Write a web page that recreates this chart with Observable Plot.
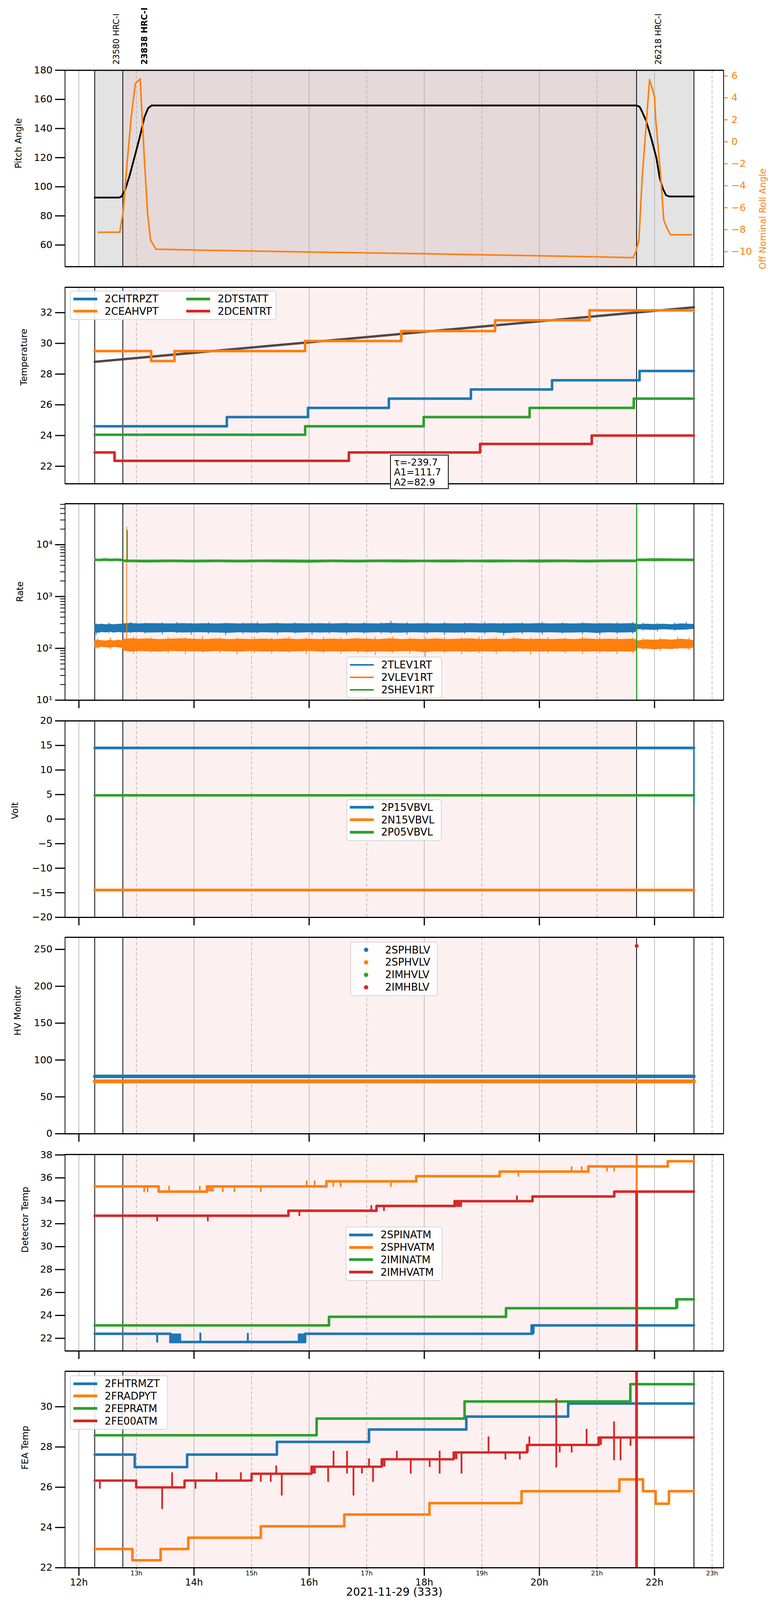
<!DOCTYPE html>
<html><head><meta charset="utf-8">
<script src="https://cdn.jsdelivr.net/npm/d3@7"></script>
<script src="https://cdn.jsdelivr.net/npm/@observablehq/plot@0.6"></script>
<style>
body{margin:0;background:#fff;font-family:"DejaVu Sans",sans-serif;}
#root{position:relative;width:2000px;height:4096px;overflow:hidden;background:#fff;}
.pane{position:absolute;left:0;}
.legend{position:absolute;box-sizing:border-box;border:2px solid #d6d6d6;border-radius:7px;background:rgba(255,255,255,0.85);}
.legend .sw{position:absolute;}
.legend .tx{position:absolute;font-size:26px;line-height:30px;white-space:nowrap;color:#000;}
.note{position:absolute;box-sizing:border-box;border:2px solid #000;background:#fff;font-size:24px;line-height:25.5px;padding:6px 0 0 8px;}
</style></head><body><div id="root"></div>
<script>
// The capture window is 4096 px tall, so the 5400 px tall layout is laid out at S = 4096/5400 vertically.
const S = 4096 / 5400;

// ---------- common ----------
const X_DOMAIN = [11.759, 23.2];
const evenHours = [12, 14, 16, 18, 20, 22];
const oddHours = [13, 15, 17, 19, 21, 23];
const obsBounds = [12.275, 12.763, 21.688, 22.685];
const obsIds = ["23580 HRC-I", "23838 HRC-I", "26218 HRC-I"];
const obsStarts = [12.275, 12.763, 21.688];
const obsBold = [false, true, false];
const grayShade = [[12.275, 12.763], [21.688, 22.685]];
const pinkShade = [[12.763, 21.688]];
const C = {blue: "#1f77b4", orange: "#ff7f0e", green: "#2ca02c", red: "#d62728"};

// ---------- panel 1 : pitch / roll ----------
const pitch = [[12.275,92.6],[12.70,92.6],[12.74,93.3],[12.80,97.5],[12.88,107.5],[12.97,120.9],[13.06,134.5],[13.14,147.9],[13.20,153.8],[13.26,155.8],
  [21.688,155.8],[21.74,155.0],[21.785,151.5],[21.853,145.4],[21.944,133.2],[22.034,119.6],[22.09,106.1],[22.145,98.7],[22.20,94.2],[22.26,93.3],[22.685,93.3]];
const roll = [[12.34,-8.23],[12.71,-8.23],[12.77,-6.3],[12.84,-1.8],[12.91,2.3],[12.98,5.3],[13.065,5.73],[13.08,4.1],[13.14,-1.8],[13.195,-6.6],[13.245,-8.95],[13.34,-9.78],
  [15.0,-9.95],[18.0,-10.19],[21.0,-10.47],[21.63,-10.55],[21.68,-9.93],[21.73,-8.9],[21.785,-3.3],[21.914,5.66],[22.0,4.1],[22.02,2.1],[22.11,-3.3],[22.16,-7.1],[22.22,-7.9],[22.28,-8.46],[22.645,-8.46]];
const pitchTicks = [60, 80, 100, 120, 140, 160, 180];
const rollTicks = [-10, -8, -6, -4, -2, 0, 2, 4, 6];

// ---------- panel 2 : temperature ----------
const CHTRPZT = [[12.275,24.6],[14.57,25.2],[15.98,25.8],[17.385,26.4],[18.81,27.0],[20.22,27.6],[21.74,28.2],[22.685,28.2]];
const CEAHVPT = [[12.275,29.5],[13.255,28.85],[13.66,29.5],[15.93,30.15],[17.60,30.8],[19.23,31.5],[20.87,32.15],[22.685,32.15]];
const DTSTATT = [[12.275,24.05],[15.93,24.6],[17.99,25.2],[19.83,25.8],[21.64,26.4],[22.685,26.4]];
const DCENTRT = [[12.275,22.9],[12.62,22.35],[16.69,22.9],[18.97,23.45],[20.91,24.0],[22.685,24.0]];
const tempFit = [[12.275,28.8],[22.685,32.35]];
const fitText = ["τ=-239.7", "A1=111.7", "A2=82.9"];

// ---------- panel 3 : rates (time, low envelope, high envelope) ----------
const TLEV1RT = [[12.275,205,292],[12.33,198,290],[12.40,205,296],[12.47,202,288],[12.54,206,295],[12.61,200,290],[12.68,205,294],[12.74,202,296],
  [12.80,200,302],[12.90,203,305],[13.05,205,300],[13.20,200,304],[13.40,202,302],[13.60,205,300],[13.80,200,304],[14.00,203,300],[14.20,202,302],[14.40,200,300],
  [14.60,198,304],[14.80,203,300],[15.00,200,302],[15.20,203,300],[15.40,200,304],[15.60,203,300],[15.80,199,302],[16.00,203,300],[16.20,200,302],[16.40,203,300],
  [16.60,199,304],[16.80,203,300],[17.00,200,302],[17.20,203,300],[17.40,200,306],[17.60,199,302],[17.80,203,300],[18.00,200,302],[18.20,203,300],[18.40,200,302],
  [18.60,199,300],[18.80,203,304],[19.00,200,300],[19.20,203,302],[19.40,196,300],[19.60,200,302],[19.80,203,300],[20.00,200,304],[20.20,203,300],[20.40,199,302],
  [20.60,200,300],[20.80,203,304],[21.00,197,300],[21.20,203,302],[21.40,200,300],[21.60,203,304],[21.67,205,300],
  [21.70,232,290],[21.85,228,296],[22.00,225,292],[22.15,232,296],[22.30,228,290],[22.45,226,300],[22.60,232,296],[22.685,235,292]];
const TLEV1RTspikes = [[12.30,180,300],[12.52,195,310],[12.90,195,320],[13.15,190,310],[13.45,185,315],[13.70,195,320],[13.95,182,305],[14.25,190,318],[14.55,178,310],
  [14.85,188,312],[15.10,192,322],[15.45,185,310],[15.75,190,316],[16.05,183,312],[16.35,190,320],[16.65,182,310],[16.95,188,315],[17.25,192,312],[17.42,190,338],
  [17.70,184,316],[18.05,188,312],[18.35,180,318],[18.70,190,312],[19.05,186,320],[19.38,175,310],[19.70,188,315],[20.05,182,322],[20.40,190,312],[20.75,185,318],
  [21.05,180,310],[21.35,188,316],[21.62,190,320],[21.80,215,310],[22.05,210,305],[22.35,215,312],[22.55,222,322]];
const VLEV1RT = [[12.275,105,140],[12.33,102,145],[12.40,106,142],[12.47,104,140],[12.54,102,146],[12.61,106,140],[12.68,104,145],[12.74,102,142],
  [12.80,88,152],[12.90,86,155],[13.05,88,152],[13.20,87,154],[13.40,86,150],[13.60,88,153],[13.80,87,155],[14.00,87,152],[14.20,86,150],[14.40,88,154],
  [14.60,87,150],[14.80,86,152],[15.00,88,150],[15.20,86,153],[15.40,87,150],[15.60,86,154],[15.80,87,150],[16.00,88,152],[16.20,86,150],[16.40,87,153],
  [16.60,86,150],[16.80,87,154],[17.00,85,152],[17.20,87,150],[17.40,86,155],[17.60,87,150],[17.80,88,152],[18.00,84,150],[18.20,87,154],[18.40,86,150],
  [18.60,87,152],[18.80,85,154],[19.00,87,150],[19.20,86,152],[19.40,87,150],[19.60,86,154],[19.80,87,150],[20.00,86,152],[20.20,87,150],[20.40,86,152],
  [20.60,87,150],[20.80,86,154],[21.00,87,150],[21.20,86,152],[21.40,87,150],[21.60,86,152],[21.67,87,150],
  [21.70,100,140],[21.85,98,148],[22.00,95,145],[22.15,98,150],[22.30,96,146],[22.45,100,152],[22.60,98,148],[22.685,104,142]];
const VLEV1RTspikes = [[12.32,98,155],[12.55,95,160],[12.95,78,168],[13.25,82,162],[13.55,80,165],[13.85,76,160],[14.15,82,170],[14.45,80,162],[14.75,75,160],
  [15.05,80,165],[15.35,78,160],[15.65,82,168],[15.95,76,160],[16.25,80,165],[16.55,77,162],[16.85,80,160],[17.15,74,165],[17.45,80,170],[17.75,78,162],
  [18.02,65,160],[18.35,80,165],[18.65,76,162],[18.95,80,168],[19.25,77,160],[19.55,80,165],[19.85,75,162],[20.15,80,165],[20.45,78,160],[20.75,76,168],
  [21.05,80,162],[21.35,77,165],[21.62,80,160],[21.80,92,158],[22.10,88,160],[22.40,95,168],[22.60,92,162]];
const SHEV1RT = [[12.275,4800,5400],[12.35,4750,5300],[12.45,4800,5450],[12.55,4750,5350],[12.65,4800,5400],[12.74,4750,5350],
  [12.80,4550,5150],[13.2,4500,5100],[13.6,4550,5150],[14.0,4500,5100],[14.4,4550,5150],[14.8,4500,5100],[15.2,4550,5150],[15.6,4500,5150],[16.0,4450,5100],
  [16.4,4550,5150],[16.8,4500,5100],[17.2,4550,5150],[17.6,4500,5150],[18.0,4550,5100],[18.4,4500,5150],[18.8,4550,5100],[19.2,4500,5150],[19.6,4550,5100],
  [20.0,4500,5150],[20.4,4550,5150],[20.8,4500,5100],[21.2,4550,5150],[21.67,4550,5150],
  [21.70,4800,5350],[22.0,4750,5450],[22.3,4800,5400],[22.685,4750,5350]];
const rateSpikes = [[12.83,100,22000,"orange"],[12.84,4800,19000,"green"],[21.69,5,90000,"green"]];
const rateTicks = [10, 100, 1000, 10000];
const rateLabels = ["10¹", "10²", "10³", "10⁴"];
const rateMinor = [20,30,40,50,60,70,80,90,200,300,400,500,600,700,800,900,2000,3000,4000,5000,6000,7000,8000,9000,20000,30000,40000,50000,60000];

// ---------- panel 4 : volts ----------
const P15VBVL = [[12.275,14.5],[22.685,14.5]];
const N15VBVL = [[12.275,-14.45],[22.685,-14.45]];
const P05VBVL = [[12.275,4.85],[22.685,4.85]];
const P15drop = [[22.685,14.5,2.6]];

// ---------- panel 5 : HV monitor ----------
const SPHBLV = [[12.275,77.8],[22.685,77.8]];
const SPHVLV = [[12.275,71.1],[22.685,71.1]];
const IMHVLV = [];
const IMHBLV = [[21.69,254.6]];

// ---------- panel 6 : detector temps ----------
const SPINATM = [[12.275,22.4],[13.59,21.68],[15.93,22.4],[19.88,23.13],[22.685,23.13]];
const SPHVATM = [[12.275,35.25],[13.385,34.8],[14.225,35.25],[16.30,35.7],[17.86,36.15],[19.31,36.55],[20.85,37.0],[22.23,37.45],[22.685,37.45]];
const IMINATM = [[12.275,23.13],[16.345,23.88],[19.42,24.63],[22.38,25.4],[22.685,25.4]];
const IMHVATM = [[12.275,32.7],[15.64,33.13],[17.17,33.55],[18.53,33.97],[19.88,34.38],[21.30,34.8],[22.685,34.8]];
const SPINATMspikes = [[13.36,22.4,21.62],[13.60,21.68,22.4],[13.62,21.68,22.4],[13.64,21.68,22.4],[13.66,21.68,22.4],[13.68,21.68,22.4],[13.70,21.68,22.4],[13.72,21.68,22.4],[13.74,21.68,22.4],[13.76,21.68,22.4],
  [14.11,21.68,22.48],[14.935,21.68,22.45],[15.82,21.68,22.4],[15.84,21.68,22.4],[15.86,21.68,22.4],[15.88,21.68,22.4],[15.90,21.68,22.4],[15.92,21.68,22.4],[19.86,22.4,23.2],[19.88,22.4,23.2],[19.90,22.4,23.2]];
const SPHVATMspikes = [[13.134,35.25,34.75],[13.195,35.25,34.75],[13.567,34.8,35.3],[14.10,34.8,35.3],[14.24,34.8,35.25],[14.27,35.25,34.8],[14.30,34.8,35.25],[14.33,35.25,34.8],[14.50,35.25,34.75],[14.70,35.25,34.75],[15.16,35.25,34.75],
  [15.956,35.25,35.75],[16.094,35.25,35.75],[16.42,35.7,35.2],[16.545,35.7,35.2],[17.42,35.7,35.2],[19.635,36.55,36.1],[20.56,36.55,37.0],[20.735,36.55,37.0],[21.176,37.0,36.55],[21.297,37.0,36.55]];
const SPHVATMjump = [[21.69,34.8,38.5]];
const IMINATMspikes = [[22.38,24.63,25.4],[22.40,24.63,25.4]];
const IMHVATMspikes = [[13.36,32.7,32.2],[14.24,32.7,32.2],[15.83,33.13,32.65],[17.08,33.13,33.6],[17.30,33.55,33.1],[18.52,33.55,33.97],[18.55,33.97,33.45],[18.58,33.45,33.97],[18.61,33.97,33.45],[18.64,33.97,33.45],[19.61,33.97,34.45]];
const IMHVATMjump = [[21.69,34.8,19]];

// ---------- panel 7 : FEA temps ----------
const FHTRMZT = [[12.275,27.62],[12.97,27.0],[13.88,27.62],[15.44,28.25],[17.04,28.87],[18.73,29.51],[20.50,30.16],[22.685,30.16]];
const FRADPYT = [[12.275,22.93],[12.93,22.37],[13.42,22.93],[13.90,23.49],[15.16,24.06],[16.61,24.64],[18.09,25.21],[19.69,25.80],[21.39,26.39],[21.80,25.80],[22.02,25.18],[22.25,25.80],[22.685,25.80]];
const FEPRATM = [[12.275,28.58],[16.13,29.41],[18.70,30.26],[21.58,31.12],[22.685,31.12]];
const FE00ATM = [[12.275,26.33],[12.995,25.99],[13.835,26.33],[15.0,26.67],[16.04,27.02],[17.26,27.39],[18.51,27.73],[19.785,28.10],[21.03,28.47],[22.685,28.47]];
const FEPRATMspikes = [[21.69,31.12,25.4]];
const FE00ATMspikes = [[12.364,26.33,25.92],[13.446,25.99,24.91],[13.619,25.99,26.73],[14.026,26.33,25.92],[14.39,26.33,26.73],[14.814,26.33,26.73],[15.16,26.67,26.26],[15.333,26.67,26.26],
  [15.428,26.67,27.07],[15.524,26.67,25.58],[16.07,26.67,27.02],[16.10,26.67,27.02],[16.33,27.02,26.26],[16.424,27.02,27.80],[16.658,26.67,27.80],[16.77,27.02,25.58],[16.917,27.02,26.67],[17.04,27.02,27.42],
  [17.11,27.02,26.26],[17.28,27.02,27.39],[17.31,27.02,27.39],[17.523,27.39,27.80],[17.765,27.39,26.67],[18.094,27.39,27.0],[18.267,26.67,27.80],[18.53,27.39,27.73],[18.56,27.39,27.73],[18.647,27.73,26.67],[19.116,27.73,28.51],
  [19.41,27.73,27.37],[19.66,27.73,27.37],[19.80,28.10,27.73],[19.826,28.10,28.51],[20.293,26.97,30.39],[20.353,28.10,27.72],[20.561,28.10,27.72],[20.82,28.10,28.89],[21.04,28.10,28.47],[21.07,28.10,28.47],[21.297,27.33,29.26],
  [21.41,28.47,27.33],[21.583,28.47,28.05]];
const FE00ATMjump = [[21.688,21.0,33.0]];

// ---------- helpers ----------
const root = document.getElementById("root");
const minus = d => (d < 0 ? "\u2212" + Math.abs(d) : String(d));
const px = d => d[0], py = d => d[1];
const step = (arr, color, w) => Plot.line(arr, {x: px, y: py, curve: "step-after", stroke: color, strokeWidth: w, clip: true});
const spikes = (arr, color, w) => Plot.ruleX(arr, {x: px, y1: d => d[1], y2: d => d[2], stroke: color, strokeWidth: w, clip: true});
const H = 663 * S;          // panel frame height
const TICK_FONT = 25, YLABEL_FONT = 23;

function makePanel(c) {
  const top = c.top * S;
  const mt = c.mt ?? 20, mb = c.mb ?? 40;
  const yd = c.y.domain;
  const shades = c.first
    ? [Plot.rect(grayShade, {x1: d => d[0], x2: d => d[1], y1: () => yd[0], y2: () => yd[1], fill: "#e3e3e3"}),
       Plot.rect(pinkShade, {x1: d => d[0], x2: d => d[1], y1: () => yd[0], y2: () => yd[1], fill: "#e5d9d9"})]
    : [Plot.rect(pinkShade, {x1: d => d[0], x2: d => d[1], y1: () => yd[0], y2: () => yd[1], fill: "#fdf0f0"})];
  const marks = [
    ...shades,
    Plot.ruleX(evenHours, {stroke: "#b0b0b0", strokeWidth: 1.6}),
    Plot.ruleX(oddHours, {stroke: "#b0b0b0", strokeWidth: 1.6, strokeDasharray: "8,5"}),
    Plot.ruleX(obsBounds, {stroke: "#000", strokeWidth: 2}),
    ...c.marks,
    Plot.frame({stroke: "#000", strokeWidth: 2}),
    Plot.ruleY([yd[0], yd[1]], {stroke: "#000", strokeWidth: 3}),
    Plot.axisY({ticks: c.yTicks, tickFormat: c.yFmt || minus, tickSize: 25, tickPadding: 7, strokeWidth: 3, fontSize: TICK_FONT, label: null}),
    Plot.text([c.yLabel], {frameAnchor: "left", dx: c.labelX - 166, rotate: -90, fontSize: YLABEL_FONT}),
    ...(c.extra || [])
  ];
  if (c.minor) marks.push(Plot.axisY({ticks: c.minor, tickSize: 12, strokeWidth: 2, stroke: "#000", fill: "none", label: null}));
  if (c.bottomTicks) {
    if (c.last) {
      marks.push(Plot.axisX({ticks: evenHours, tickSize: 21, tickPadding: 8, strokeWidth: 3, fontSize: 24, label: null, tickFormat: d => d + "h"}));
    } else {
      marks.push(Plot.axisX({ticks: evenHours, tickSize: 21, strokeWidth: 3, stroke: "#000", fill: "none", label: null}));
    }
  }
  if (c.last) {
    marks.push(Plot.axisX({ticks: oddHours, tickSize: 4, tickPadding: 4, strokeWidth: 1.5, fontSize: 16, label: null, tickFormat: d => d + "h"}));
    marks.push(Plot.text(["2021-11-29 (333)"], {frameAnchor: "bottom", dy: 72, lineAnchor: "bottom", fontSize: 28}));
  }
  const svg = Plot.plot({
    width: 2000, height: mt + H + mb,
    marginLeft: 166, marginRight: 147.5, marginTop: mt, marginBottom: mb,
    x: {domain: X_DOMAIN, axis: null},
    y: {...c.y, axis: null},
    style: {fontFamily: "DejaVu Sans", fontSize: TICK_FONT + "px", background: "transparent", overflow: "visible"},
    marks
  });
  const d = document.createElement("div");
  d.className = "pane";
  d.style.top = (top - mt) + "px";
  d.appendChild(svg);
  root.appendChild(d);
}

// legend box at reference coordinates (left, top) with rows spaced like the reference
function legend(left, top, width, items, opt = {}) {
  const rows = Math.max(...items.map(it => it.row)) + 1;
  const rowGap = 42 * S;
  const box = document.createElement("div");
  box.className = "legend";
  Object.assign(box.style, {left: left + "px", top: (top * S) + "px", width: width + "px", height: (52 * S + 4 + rowGap * (rows - 1)) + "px"});
  for (const it of items) {
    const cy = 19 + rowGap * it.row;
    const off = (it.col || 0) * (opt.colOff || 0);
    const sw = document.createElement("div");
    sw.className = "sw";
    if (opt.dot) {
      Object.assign(sw.style, {left: (33 + off) + "px", top: (cy - 5.5) + "px", width: "11px", height: "11px", borderRadius: "50%", background: it.color});
    } else {
      const lw = opt.lw || 7;
      Object.assign(sw.style, {left: (7 + off) + "px", top: (cy - lw / 2) + "px", width: "61px", height: lw + "px", background: it.color});
    }
    box.appendChild(sw);
    const tx = document.createElement("div");
    tx.className = "tx";
    tx.textContent = it.label;
    Object.assign(tx.style, {left: (87.5 + off) + "px", top: (cy - 15) + "px"});
    box.appendChild(tx);
  }
  root.appendChild(box);
}

// ---------- panel 1 ----------
const P1DOM = [45.1, 180], R1DOM = [-11.37, 6.51];
const r2p = r => P1DOM[0] + (r - R1DOM[0]) * (P1DOM[1] - P1DOM[0]) / (R1DOM[1] - R1DOM[0]);
const p2r = p => R1DOM[0] + (p - P1DOM[0]) * (R1DOM[1] - R1DOM[0]) / (P1DOM[1] - P1DOM[0]);
const obsLabelData = obsIds.map((label, i) => ({label, t: obsStarts[i] + 0.325, bold: obsBold[i]}));
makePanel({
  top: 236.5, mt: 236.5 * S, y: {domain: P1DOM}, yTicks: pitchTicks, yLabel: "Pitch Angle", labelX: 47, first: true,
  marks: [
    Plot.line(pitch, {x: px, y: py, stroke: "#000", strokeWidth: 4.5, clip: true}),
    Plot.line(roll, {x: px, y: d => r2p(d[1]), stroke: C.orange, strokeWidth: 4, clip: true})
  ],
  extra: [
    Plot.axisY({anchor: "right", ticks: rollTicks.map(r2p), tickFormat: d => minus(Math.round(p2r(d))), color: C.orange,
      tickSize: 10, tickPadding: 10, strokeWidth: 2.5, fontSize: TICK_FONT, label: null}),
    Plot.text(["Off Nominal Roll Angle"], {frameAnchor: "right", dx: 1953 - 1852.5, rotate: -90, fill: C.orange, fontSize: YLABEL_FONT}),
    Plot.text(obsLabelData.filter(d => !d.bold), {x: "t", text: "label", frameAnchor: "top", dy: -19 * S, rotate: -90, textAnchor: "start", fontSize: 21}),
    Plot.text(obsLabelData.filter(d => d.bold), {x: "t", text: "label", frameAnchor: "top", dy: -19 * S, rotate: -90, textAnchor: "start", fontSize: 21, fontWeight: "bold"})
  ]
});

// ---------- panel 2 ----------
makePanel({
  top: 969, y: {domain: [20.86, 33.65]}, yTicks: [22, 24, 26, 28, 30, 32], yLabel: "Temperature", labelX: 61,
  marks: [
    Plot.line(tempFit, {x: px, y: py, stroke: "#453f3f", strokeWidth: 6, strokeOpacity: 0.95}),
    step(CHTRPZT, C.blue, 6.5), step(CEAHVPT, C.orange, 6.5), step(DTSTATT, C.green, 6.5), step(DCENTRT, C.red, 6.5)
  ]
});
legend(178.6, 981, 529.4, [
  {label: "2CHTRPZT", color: C.blue, row: 0, col: 0}, {label: "2CEAHVPT", color: C.orange, row: 1, col: 0},
  {label: "2DTSTATT", color: C.green, row: 0, col: 1}, {label: "2DCENTRT", color: C.red, row: 1, col: 1}
], {colOff: 289.4, lw: 7});
{
  const note = document.createElement("div");
  note.className = "note";
  Object.assign(note.style, {left: "999px", top: (1534 * S) + "px", width: "150px", height: (116 * S) + "px"});
  note.innerHTML = fitText.map(t => `<div>${t}</div>`).join("");
  root.appendChild(note);
}

// ---------- panel 3 ----------
const band = (arr, color) => Plot.areaY(arr, {x: px, y1: d => d[1], y2: d => d[2], fill: color, clip: true});
makePanel({
  top: 1699, y: {type: "log", domain: [10, 61800]}, yTicks: rateTicks, yFmt: d => rateLabels[rateTicks.indexOf(d)] ?? "", minor: rateMinor,
  yLabel: "Rate", labelX: 51, bottomTicks: true,
  marks: [
    band(TLEV1RT, C.blue), spikes(TLEV1RTspikes, C.blue, 2),
    band(VLEV1RT, C.orange), spikes(VLEV1RTspikes, C.orange, 2),
    Plot.ruleX(rateSpikes.filter(d => d[3] === "orange"), {x: px, y1: d => d[1], y2: d => d[2], stroke: C.orange, strokeWidth: 2, clip: true}),
    band(SHEV1RT, C.green),
    Plot.ruleX(rateSpikes.filter(d => d[3] === "green"), {x: px, y1: d => d[1], y2: d => d[2], stroke: C.green, strokeWidth: 3, clip: true})
  ]
});
legend(886.7, 2216, 245.6, [
  {label: "2TLEV1RT", color: C.blue, row: 0}, {label: "2VLEV1RT", color: C.orange, row: 1}, {label: "2SHEV1RT", color: C.green, row: 2}
], {lw: 4});

// ---------- panel 4 ----------
makePanel({
  top: 2432, y: {domain: [-20, 20]}, yTicks: [-20, -15, -10, -5, 0, 5, 10, 15, 20], yLabel: "Volt", labelX: 38, bottomTicks: true,
  marks: [
    step(P15VBVL, C.blue, 7), spikes(P15drop, C.blue, 4), step(N15VBVL, C.orange, 7), step(P05VBVL, C.green, 6.5)
  ]
});
legend(886.5, 2697, 244.5, [
  {label: "2P15VBVL", color: C.blue, row: 0}, {label: "2N15VBVL", color: C.orange, row: 1}, {label: "2P05VBVL", color: C.green, row: 2}
], {lw: 7});

// ---------- panel 5 ----------
makePanel({
  top: 3163, y: {domain: [0, 266.4]}, yTicks: [0, 50, 100, 150, 200, 250], yLabel: "HV Monitor", labelX: 45, bottomTicks: true,
  marks: [
    Plot.line(SPHBLV, {x: px, y: py, stroke: C.blue, strokeWidth: 9, strokeLinecap: "round"}),
    Plot.line(SPHVLV, {x: px, y: py, stroke: C.orange, strokeWidth: 10, strokeLinecap: "round"}),
    Plot.dot(IMHVLV, {x: px, y: py, r: 5, fill: C.green}),
    Plot.dot(IMHBLV, {x: px, y: py, r: 5, fill: C.red})
  ]
});
legend(896.7, 3178, 224.3, [
  {label: "2SPHBLV", color: C.blue, row: 0}, {label: "2SPHVLV", color: C.orange, row: 1},
  {label: "2IMHVLV", color: C.green, row: 2}, {label: "2IMHBLV", color: C.red, row: 3}
], {dot: true});

// ---------- panel 6 ----------
makePanel({
  top: 3896, y: {domain: [20.9, 38.04]}, yTicks: [22, 24, 26, 28, 30, 32, 34, 36, 38], yLabel: "Detector Temp", labelX: 64, bottomTicks: true,
  marks: [
    step(SPINATM, C.blue, 6.5), spikes(SPINATMspikes, C.blue, 5),
    step(SPHVATM, C.orange, 6.5), spikes(SPHVATMspikes, C.orange, 4), spikes(SPHVATMjump, C.orange, 5),
    step(IMINATM, C.green, 6.5), spikes(IMINATMspikes, C.green, 4.5),
    step(IMHVATM, C.red, 6.5), spikes(IMHVATMspikes, C.red, 4.5), spikes(IMHVATMjump, C.red, 7)
  ]
});
legend(885, 4140, 248, [
  {label: "2SPINATM", color: C.blue, row: 0}, {label: "2SPHVATM", color: C.orange, row: 1},
  {label: "2IMINATM", color: C.green, row: 2}, {label: "2IMHVATM", color: C.red, row: 3}
], {lw: 7});

// ---------- panel 7 ----------
makePanel({
  top: 4627, mb: 84, y: {domain: [22, 31.76]}, yTicks: [22, 24, 26, 28, 30], yLabel: "FEA Temp", labelX: 64, bottomTicks: true, last: true,
  marks: [
    step(FHTRMZT, C.blue, 6.5), step(FRADPYT, C.orange, 6.5),
    step(FEPRATM, C.green, 6.5), spikes(FEPRATMspikes, C.green, 2),
    step(FE00ATM, C.red, 6), spikes(FE00ATMspikes, C.red, 4.5), spikes(FE00ATMjump, C.red, 7)
  ]
});
legend(178.6, 4642, 251.4, [
  {label: "2FHTRMZT", color: C.blue, row: 0}, {label: "2FRADPYT", color: C.orange, row: 1},
  {label: "2FEPRATM", color: C.green, row: 2}, {label: "2FE00ATM", color: C.red, row: 3}
], {lw: 7});
</script></body></html>
